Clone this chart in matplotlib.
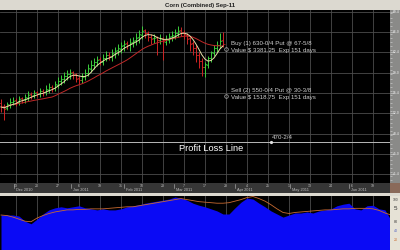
import matplotlib
matplotlib.use("Agg")
import matplotlib.pyplot as plt
import numpy as np
import pandas as pd

plt.rcParams['font.family'] = ['Liberation Sans', 'DejaVu Sans']

title = "Corn (Combined) Sep-11"

opens = [538,533,529,535,539,543,539,546,544,547,553,551,556,554,559,557,561,566,564,569,
         576,579,585,587,591,587,581,577,584,589,597,603,609,613,609,615,621,617,623,629,
         631,637,641,637,643,646,651,655,663,659,651,649,651,647,650,643,647,653,654,659,
         663,659,655,649,641,633,621,611,599,604,616,624,633,637,646]
highs = [545,536,540,546,548,546,550,549,553,558,556,561,559,564,562,568,572,569,576,582,
         586,591,594,597,593,590,584,589,597,605,612,615,619,617,623,627,625,631,635,639,
         643,647,645,649,652,658,664,670,666,661,656,657,654,656,652,655,659,662,666,670,
         668,664,659,652,645,638,626,616,608,618,628,637,645,658,660]
lows = [522,508,525,530,534,533,535,537,538,542,545,546,548,549,550,551,555,557,558,563,
        568,573,577,580,580,574,570,572,578,584,592,597,602,603,604,610,612,611,616,620,
        624,628,630,628,635,638,642,648,650,645,640,642,620,640,612,638,641,644,648,652,
        654,648,640,628,620,608,598,585,583,598,608,618,626,632,634]
closes = [531,528,536,540,542,538,545,543,548,552,550,555,553,558,556,562,565,563,570,575,
          580,584,588,590,586,580,578,583,590,598,604,608,612,610,616,620,618,624,628,632,
          636,640,638,642,645,650,656,662,658,652,648,650,646,649,644,648,652,655,658,662,
          660,656,648,640,632,620,610,600,605,615,625,632,638,645,640]

ma_fast_len = 5
ma_slow_len = 18

grid_prices = [415, 450, 485, 520, 555, 590, 625, 660, 695]
price_labels = ["41-4", "45-0", "48-4", "52-0", "55-4", "59-0", "62-4", "66-0", "69-4"]

tick_pos = [5, 12, 19, 26, 33, 40, 47, 54, 61, 68, 75, 82, 89, 96, 103, 110, 117, 124]
tick_days = ["13", "20", "27", "6", "19", "31", "10", "23", "7", "17", "28", "4", "25", "1",
             "13", "24", "6", "19"]
month_pos = [4.7, 23.7, 41.3, 58.0, 78.3, 96.7, 116.3]
month_labels = ["Dec 2010", "Jan 2011", "Feb 2011", "Mar 2011", "Apr 2011", "May 2011", "Jun 2011"]

buy_lines = ["Buy (1) 630-0/4 Put @ 67-5/8", "Value $ 3381.25  Exp 151 days"]
sell_lines = ["Sell (2) 550-0/4 Put @ 30-3/8", "Value $ 1518.75  Exp 151 days"]
buy_strike = 630
sell_strike = 550
breakeven = 470.5
breakeven_label = "470-2/4"
pl_label = "Profit Loss Line"

osc_idx = list(range(0, 131, 2))
osc_blue = [68,68,68,66,56,51,60,70,78,82,84,82,84,86,82,80,78,80,78,78,
            80,84,86,88,91,93,95,97,99,103,101,97,91,87,84,80,76,70,70,82,
            93,101,99,91,84,76,70,64,68,72,72,74,72,76,78,80,86,89,91,80,
            78,86,87,80,78,58]
osc_orange = [68,67,64,60,56,55,62,67,71,74,76,78,78,79,79,80,80,80,81,82,
              83,84,84,86,88,90,92,94,96,98,100,98,96,94,93,92,91,91,92,95,
              98,102,104,100,95,88,80,73,71,73,74,75,76,77,78,78,79,80,80,81,
              81,81,80,77,72,68]

W, H = 400, 250
fig = plt.figure(figsize=(4, 2.5), dpi=100)
fig.patch.set_facecolor('#dcd9d0')


def rect(x0, y0, x1, y1):
    return [x0 / W, 1 - y1 / H, (x1 - x0) / W, (y1 - y0) / H]


XL = (-1 / 3, 129.667)
YL = (400, 698)
GRID = '#4c4c4c'

# title
fig.text(0.5, 1 - 5.5 / H, title, ha='center', va='center', fontsize=4.3,
         weight='bold', color='#202020')

# main price panel
ax = fig.add_axes(rect(0, 10, 390, 183))
ax.set_facecolor('black')
ax.set_xlim(*XL)
ax.set_ylim(*YL)
ax.set_xticks(tick_pos)
ax.set_yticks(grid_prices)
ax.grid(True, color=GRID, lw=0.6)
ax.tick_params(length=0, labelbottom=False, labelleft=False)
for s in ax.spines.values():
    s.set_visible(False)

n = len(closes)
x = np.arange(n)
o = np.array(opens); h = np.array(highs); l = np.array(lows); c = np.array(closes)
cols = np.where(c >= o, '#3ccf3c', '#d02424')
ax.vlines(x, l, h, colors=cols, lw=0.7, zorder=3)
ax.hlines(o, x - 0.7, x, colors=cols, lw=0.5, zorder=3)
ax.hlines(c, x, x + 0.7, colors=cols, lw=0.5, zorder=3)
ma_f = pd.Series(closes).rolling(ma_fast_len, min_periods=1).mean()
ma_s = pd.Series(closes).rolling(ma_slow_len, min_periods=1).mean()
ax.plot(x, ma_s, color='#c02828', lw=0.7, zorder=4)
ax.plot(x, ma_f, color='#e8e0a8', lw=0.7, zorder=4)

ax.axhline(breakeven, color='#b8b8b8', lw=0.7, zorder=2)
ax.plot([75, 75], [buy_strike, sell_strike], 'o', mfc='none', mec='#b0b0b0',
        ms=2.6, mew=0.5, zorder=5)
ax.plot([90], [breakeven], 'o', color='#e0e0e0', ms=1.3, zorder=5)
tc = '#cfcfcf'
ax.text(76.7, 641, buy_lines[0], fontsize=4.4, color=tc, va='center', ha='left')
ax.text(76.7, 629, buy_lines[1], fontsize=4.4, color=tc, va='center', ha='left')
ax.text(76.7, 559, sell_lines[0], fontsize=4.4, color=tc, va='center', ha='left')
ax.text(76.7, 547, sell_lines[1], fontsize=4.4, color=tc, va='center', ha='left')
ax.text(90.3, 479, breakeven_label, fontsize=4.4, color=tc, va='center', ha='left')
ax.text(59.3, 459, pl_label, fontsize=6.7, color='white', va='center', ha='left')

# right price strip
axr = fig.add_axes(rect(390, 10, 400, 183))
axr.set_facecolor('#8a8a88')
axr.set_xlim(0, 1)
axr.set_ylim(*YL)
axr.set_xticks([])
axr.set_yticks(grid_prices)
axr.set_yticks(np.arange(405, 698, 7), minor=True)
axr.tick_params(axis='y', which='both', direction='in', left=True, right=False,
                labelleft=False, colors='#d8d8d8', width=0.4)
axr.tick_params(axis='y', which='major', length=3)
axr.tick_params(axis='y', which='minor', length=1.5)
for s in axr.spines.values():
    s.set_visible(False)
for p, t in zip(grid_prices, price_labels):
    axr.text(0.62, p, t, fontsize=2.4, color='#f0f0f0', ha='center', va='center')

# date strip
axd = fig.add_axes(rect(0, 183, 390, 193))
axd.set_facecolor('#363636')
axd.set_xlim(*XL)
axd.set_ylim(0, 1)
axd.set_xticks([]); axd.set_yticks([])
for s in axd.spines.values():
    s.set_visible(False)
for p, t in zip(tick_pos, tick_days):
    axd.text(p, 0.7, t, fontsize=2.6, color='#bdbdbd', ha='center', va='center')
for p, t in zip(month_pos, month_labels):
    axd.text(p + 0.3, 0.27, t, fontsize=2.8, color='#bdbdbd', ha='left', va='center')
    axd.plot([p - 0.2, p - 0.2], [0.5, 0.9], color='#bdbdbd', lw=0.4)

axi = fig.add_axes(rect(390, 183, 400, 193))
axi.set_facecolor('#8a6a5a')
axi.set_xticks([]); axi.set_yticks([])
for s in axi.spines.values():
    s.set_visible(False)

# lower oscillator panel
axl = fig.add_axes(rect(0, 196, 390, 250))
axl.set_facecolor('black')
axl.set_xlim(*XL)
axl.set_ylim(0, 105)
axl.set_xticks(tick_pos)
axl.set_yticks([])
axl.grid(True, axis='x', color=GRID, lw=0.6)
axl.tick_params(length=0, labelbottom=False)
for s in axl.spines.values():
    s.set_visible(False)
axl.fill_between(osc_idx, 0, osc_blue, color='#0a0af5', lw=0, zorder=2)
axl.plot(osc_idx, osc_orange, color='#c86a30', lw=0.6, zorder=3)

axlr = fig.add_axes(rect(390, 196, 400, 250))
axlr.set_facecolor('#e6e2d6')
axlr.set_xlim(0, 1); axlr.set_ylim(0, 1)
axlr.set_xticks([]); axlr.set_yticks([])
for s in axlr.spines.values():
    s.set_visible(False)
axlr.text(0.55, 0.92, "100", fontsize=2.4, color='#404040', ha='center', va='center')
axlr.text(0.55, 0.76, "5", fontsize=4.5, color='#303030', ha='center', va='center')
axlr.text(0.55, 0.52, "80", fontsize=2.6, color='#303030', ha='center', va='center')
axlr.text(0.55, 0.36, "40", fontsize=2.6, color='#5060c0', ha='center', va='center')
axlr.text(0.55, 0.18, "20", fontsize=2.6, color='#c86a30', ha='center', va='center')

fig.savefig('out.png', dpi=100, facecolor=fig.get_facecolor())
